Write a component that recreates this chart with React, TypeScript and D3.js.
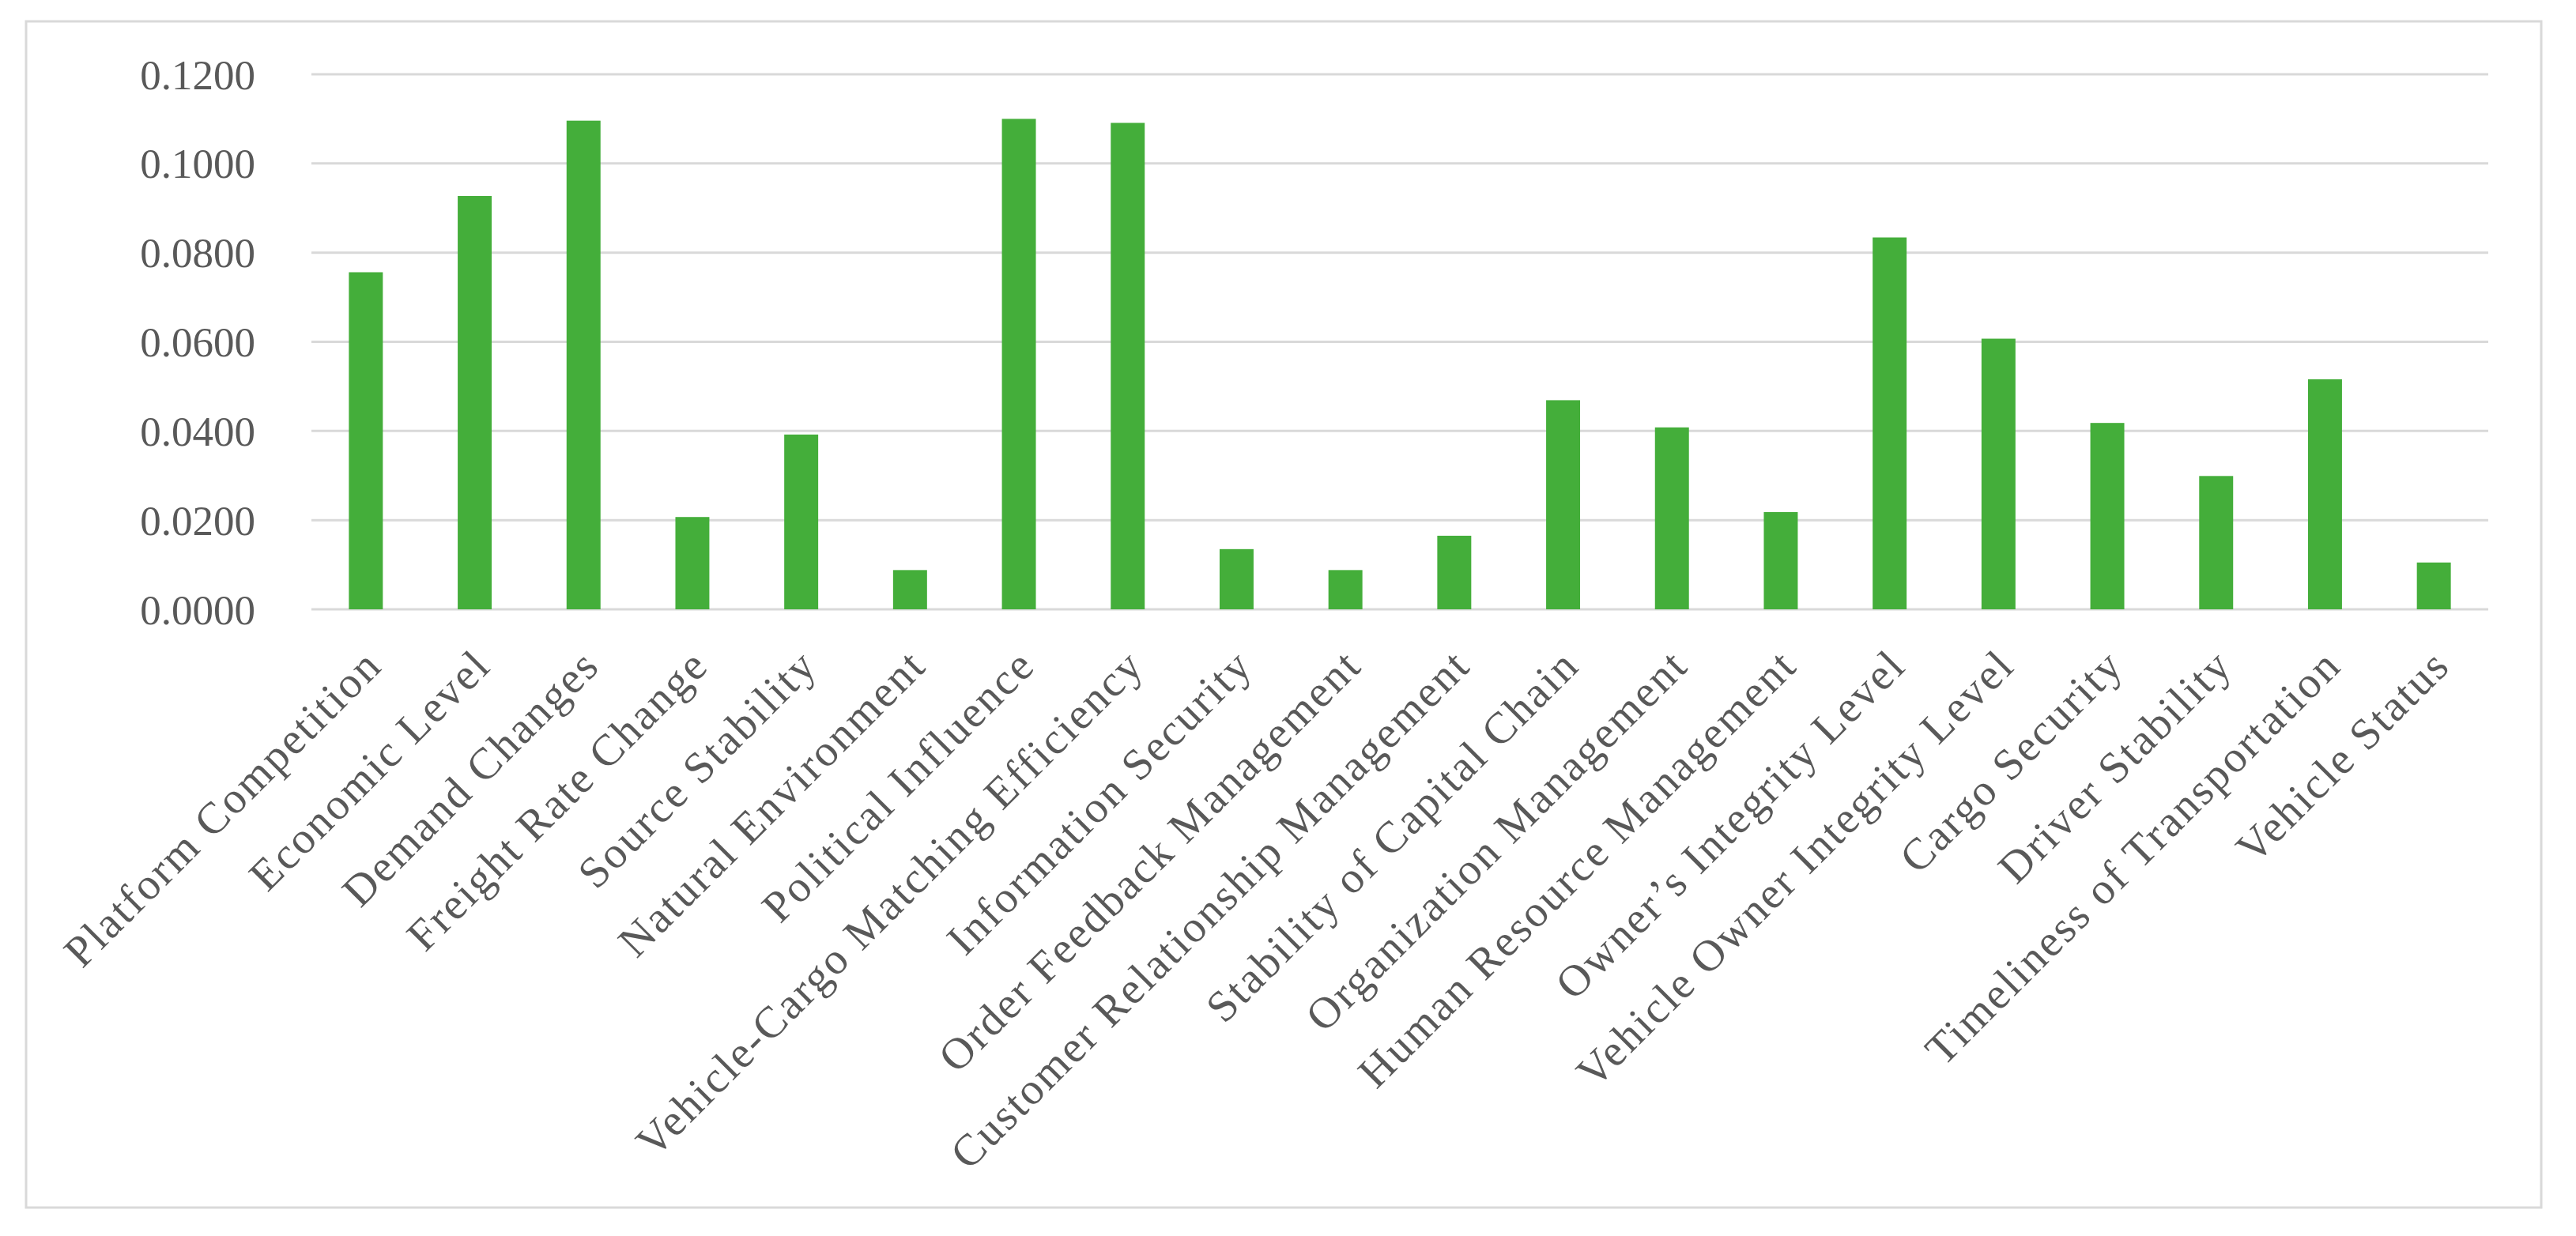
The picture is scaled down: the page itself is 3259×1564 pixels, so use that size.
import React from "react";
import * as d3 from "d3";

const categories = [
  "Platform Competition",
  "Economic Level",
  "Demand Changes",
  "Freight Rate Change",
  "Source Stability",
  "Natural Environment",
  "Political Influence",
  "Vehicle-Cargo Matching Efficiency",
  "Information Security",
  "Order Feedback Management",
  "Customer Relationship Management",
  "Stability of Capital Chain",
  "Organization Management",
  "Human Resource Management",
  "Owner\u2019s Integrity Level",
  "Vehicle Owner Integrity Level",
  "Cargo Security",
  "Driver Stability",
  "Timeliness of Transportation",
  "Vehicle Status",
];

const values = [
  0.0756, 0.0927, 0.1096, 0.0207, 0.0392, 0.0088, 0.11, 0.1091, 0.0135, 0.0088,
  0.0165, 0.0469, 0.0408, 0.0218, 0.0834, 0.0607, 0.0418, 0.0299, 0.0516, 0.0105,
];

const yTicks = [0, 0.02, 0.04, 0.06, 0.08, 0.1, 0.12];

const W = 3259;
const H = 1564;
const plotLeft = 394;
const plotRight = 3148;
const plotTop = 94;
const plotBottom = 771;
const FONT = "'Liberation Serif', 'Times New Roman', serif";
const TEXT = "#595959";
const GRID = "#d9d9d9";
const BAR = "#44ae3a";

export default function App() {
  const x = d3
    .scaleBand<string>()
    .domain(categories)
    .range([plotLeft, plotRight])
    .paddingInner(0.688)
    .paddingOuter(0.344);
  const y = d3.scaleLinear().domain([0, 0.12]).range([plotBottom, plotTop]);
  const fmt = d3.format(".4f");

  return (
    <svg
      width={W}
      height={H}
      style={{ position: "absolute", left: 0, top: 0, background: "#fff" }}
    >
      <rect x={0} y={0} width={W} height={H} fill="#fff" />
      <rect
        x={33}
        y={27}
        width={3215 - 33}
        height={1528 - 27}
        fill="#fff"
        stroke={GRID}
        strokeWidth={3}
      />
      {yTicks.map((t) => (
        <g key={t}>
          <line
            x1={plotLeft}
            x2={plotRight}
            y1={y(t)}
            y2={y(t)}
            stroke={GRID}
            strokeWidth={3}
          />
          <text
            x={323}
            y={y(t)}
            dy="0.35em"
            textAnchor="end"
            fontFamily={FONT}
            fontSize={53}
            fill={TEXT}
          >
            {fmt(t)}
          </text>
        </g>
      ))}
      {categories.map((c, i) => (
        <rect
          key={c}
          x={x(c)}
          y={y(values[i])}
          width={x.bandwidth()}
          height={y(0) - y(values[i])}
          fill={BAR}
        />
      ))}
      {categories.map((c) => {
        const cx = (x(c) as number) + x.bandwidth() / 2 + 23;
        const cy = plotBottom + 74;
        return (
          <text
            key={c}
            transform={`translate(${cx},${cy}) rotate(-45)`}
            textAnchor="end"
            fontFamily={FONT}
            fontSize={56}
            letterSpacing={2.5}
            fill={TEXT}
          >
            {c}
          </text>
        );
      })}
    </svg>
  );
}
